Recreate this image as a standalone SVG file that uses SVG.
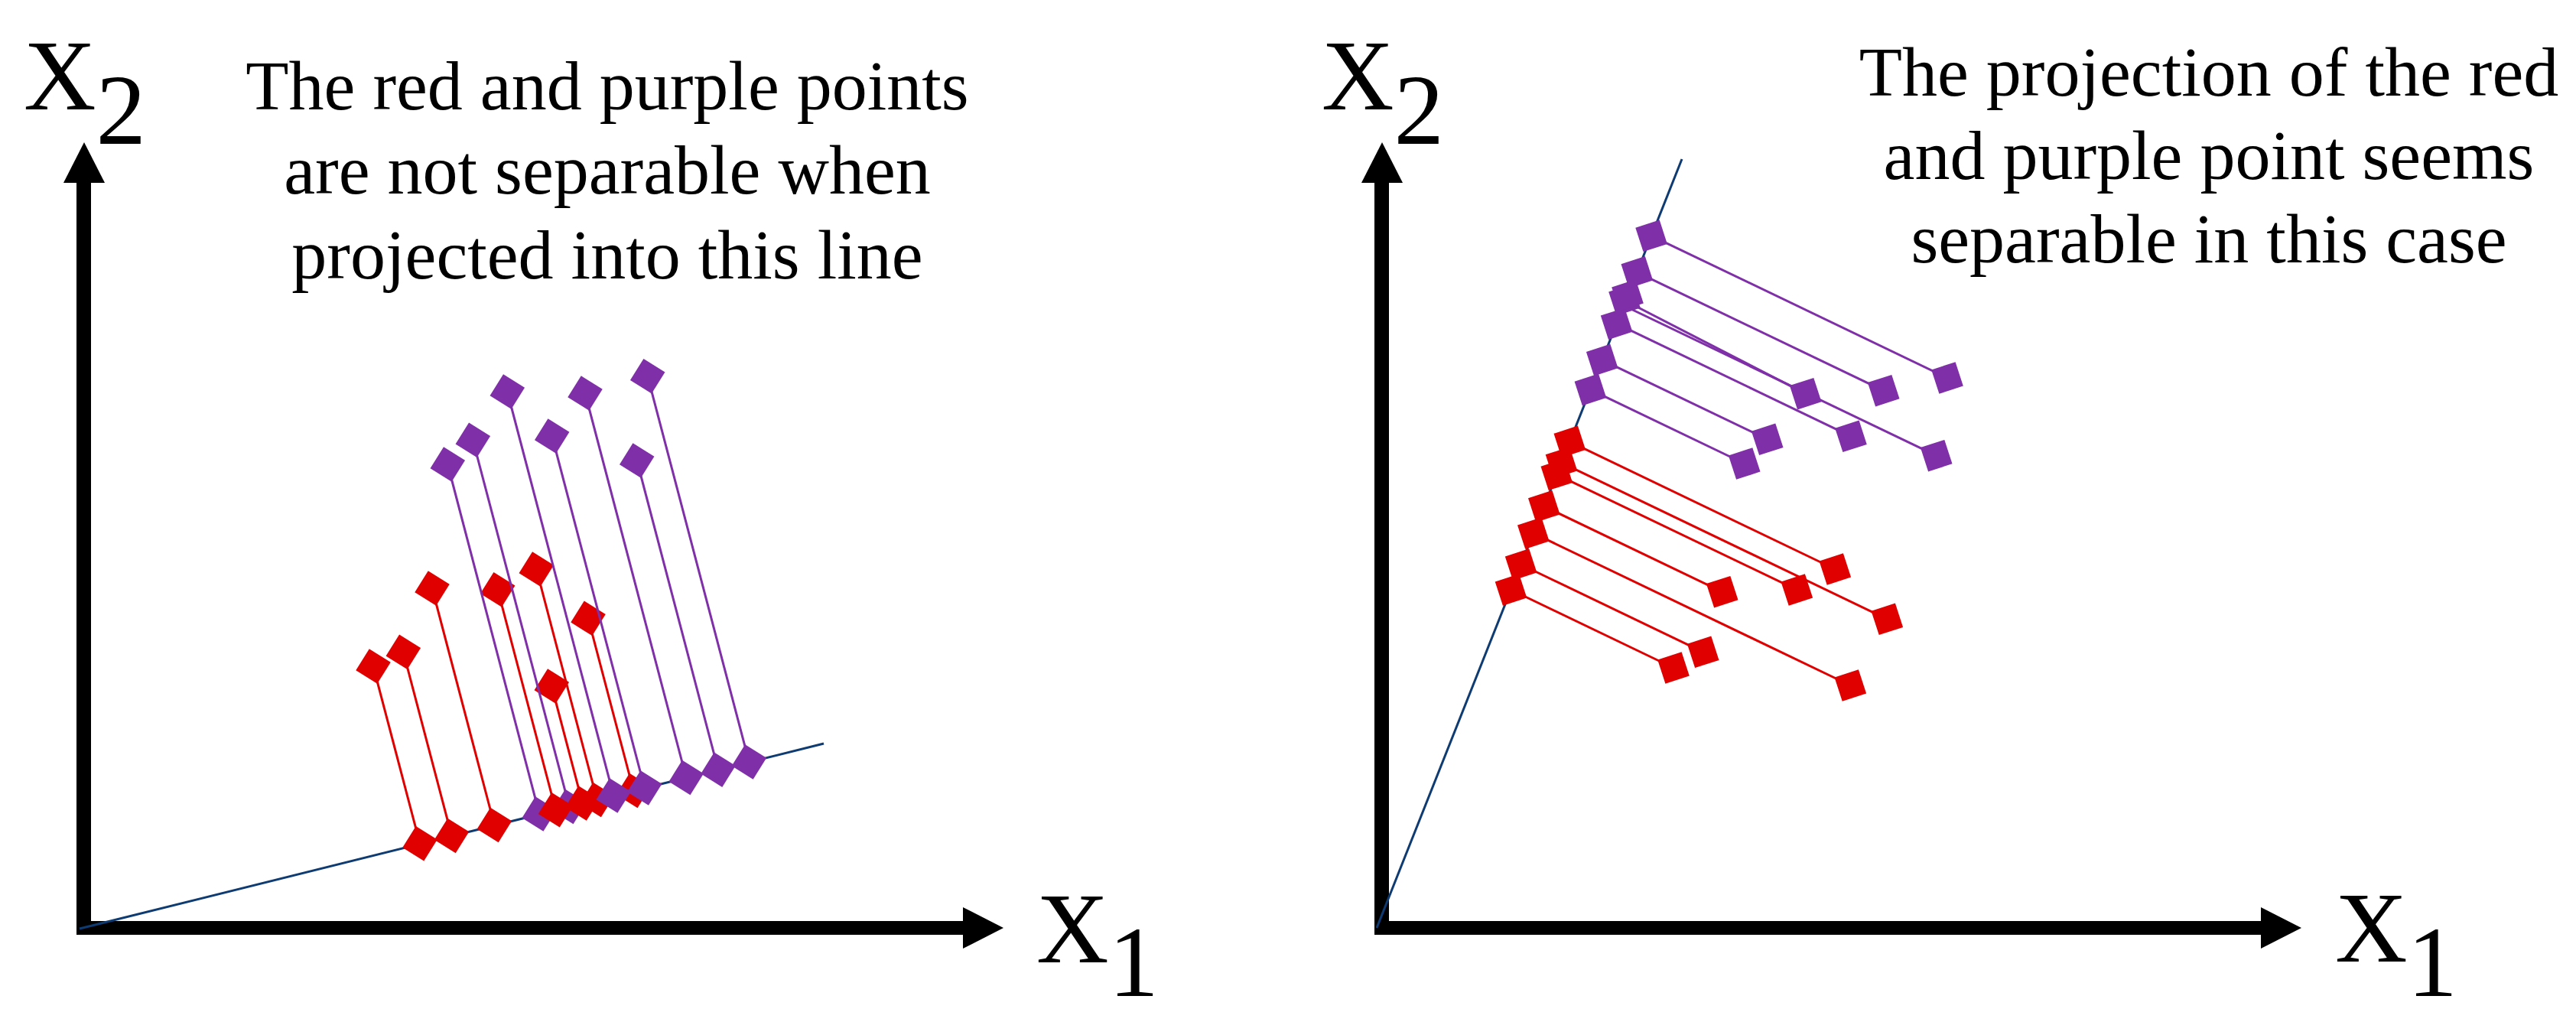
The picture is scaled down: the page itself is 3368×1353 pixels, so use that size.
<svg xmlns="http://www.w3.org/2000/svg" xmlns:xlink="http://www.w3.org/1999/xlink" width="3368" height="1353" viewBox="0 0 3368 1353">
<style>
.bg{fill:#fff}
.ax{fill:#000}
.proj{stroke:#0E3B72;stroke-width:3;fill:none}
.cr{stroke:#E00000;stroke-width:3;fill:none}
.cp{stroke:#7F2FA8;stroke-width:3;fill:none}
.r{fill:#E00000}
.p{fill:#7F2FA8}
.cap{font-family:'Liberation Serif','Times New Roman',serif;font-size:92px;fill:#000;text-anchor:middle}
.lab{font-family:'Liberation Serif','Times New Roman',serif;font-size:131px;fill:#000}
</style>
<defs>
<rect id="sqL" x="-16.5" y="-16.5" width="33" height="33" transform="rotate(32)"/>
<rect id="sqR" x="-16.5" y="-16.5" width="33" height="33" transform="rotate(-18)"/>
</defs>
<rect class="bg" x="0" y="0" width="3368" height="1353"/>

<!-- Left panel axes -->
<g id="left-axes">
<rect class="ax" x="100" y="236" width="19" height="986"/>
<polygon class="ax" points="110,186 137,239 83,239"/>
<rect class="ax" x="100" y="1204" width="1162" height="18"/>
<polygon class="ax" points="1312,1213 1259,1186 1259,1240"/>
<line class="proj" x1="104" y1="1214" x2="1077" y2="972"/>
</g>
<g id="left-labels">
<text class="lab" x="31" y="143">X<tspan dy="45">2</tspan></text>
<text class="lab" x="1355" y="1258">X<tspan dy="44">1</tspan></text>
</g>
<g id="left-caption">
<text class="cap" x="794" y="143">The red and purple points</text>
<text class="cap" x="794" y="253">are not separable when</text>
<text class="cap" x="794" y="364">projected into this line</text>
</g>

<!-- Right panel axes -->
<g id="right-axes">
<rect class="ax" x="1797" y="236" width="19" height="986"/>
<polygon class="ax" points="1807,186 1834,239 1780,239"/>
<rect class="ax" x="1797" y="1204" width="1162" height="18"/>
<polygon class="ax" points="3009,1213 2956,1186 2956,1240"/>
<line class="proj" x1="1800" y1="1213" x2="2199" y2="208"/>
</g>
<g id="right-labels">
<text class="lab" x="1728" y="143">X<tspan dy="45">2</tspan></text>
<text class="lab" x="3053" y="1257">X<tspan dy="45">1</tspan></text>
</g>
<g id="right-caption">
<text class="cap" x="2888" y="125">The projection of the red</text>
<text class="cap" x="2888" y="234">and purple point seems</text>
<text class="cap" x="2888" y="343">separable in this case</text>
</g>

<!-- Connectors -->
<g id="connectors">
<g id="left-red-connectors" class="cr">
<line x1="488" y1="871" x2="549" y2="1102.8"/>
<line x1="527.3" y1="852.3" x2="590.5" y2="1092.5"/>
<line x1="565" y1="769" x2="646.4" y2="1078.6"/>
<line x1="650.7" y1="770.7" x2="726.5" y2="1058.8"/>
<line x1="701.3" y1="744" x2="780.6" y2="1045.5"/>
<line x1="769" y1="808.3" x2="828.3" y2="1033.6"/>
<line x1="721.3" y1="897" x2="761.6" y2="1050"/>
</g>
<g id="right-red-connectors" class="cr">
<line x1="2188" y1="873" x2="1975.5" y2="771"/>
<line x1="2226.7" y1="852.3" x2="1988.6" y2="738"/>
<line x1="2419.3" y1="896" x2="2004.8" y2="697"/>
<line x1="2251.7" y1="773.7" x2="2018.8" y2="661.9"/>
<line x1="2349.3" y1="771" x2="2035.3" y2="620.3"/>
<line x1="2467.3" y1="809.3" x2="2041.5" y2="604.9"/>
<line x1="2399.3" y1="744" x2="2052.3" y2="577.4"/>
</g>
</g>

<!-- Left red original points -->
<g id="left-red-points" class="r">
<g id="L-r1"><use xlink:href="#sqL" transform="translate(488 871)"/></g>
<g id="L-r2"><use xlink:href="#sqL" transform="translate(527.3 852.3)"/></g>
<g id="L-r3"><use xlink:href="#sqL" transform="translate(565 769)"/></g>
<g id="L-r4"><use xlink:href="#sqL" transform="translate(650.7 770.7)"/></g>
<g id="L-r5"><use xlink:href="#sqL" transform="translate(701.3 744)"/></g>
<g id="L-r6"><use xlink:href="#sqL" transform="translate(769 808.3)"/></g>
<g id="L-r7"><use xlink:href="#sqL" transform="translate(721.3 897)"/></g>
</g>

<g id="connectors-purple">
<g id="left-purple-connectors" class="cp">
<line x1="585.3" y1="607" x2="705.2" y2="1064"/>
<line x1="618.3" y1="575.3" x2="744.3" y2="1054.4"/>
<line x1="663.3" y1="512" x2="802.2" y2="1040.1"/>
<line x1="721.7" y1="570" x2="842.7" y2="1030"/>
<line x1="765" y1="514" x2="897.2" y2="1016.6"/>
<line x1="846.7" y1="491.7" x2="979.4" y2="996.1"/>
<line x1="832.7" y1="602" x2="939" y2="1006.2"/>
</g>
<g id="right-purple-connectors" class="cp">
<line x1="2546" y1="494" x2="2159.1" y2="308.3"/>
<line x1="2462.7" y1="510.7" x2="2140.3" y2="355.9"/>
<line x1="2531.7" y1="595.7" x2="2123" y2="399.5"/>
<line x1="2360.7" y1="514.7" x2="2122.6" y2="392"/>
<line x1="2420" y1="570.3" x2="2113.6" y2="423.2"/>
<line x1="2310.7" y1="574.3" x2="2094.7" y2="470.6"/>
<line x1="2280.7" y1="606" x2="2079.4" y2="509.4"/>
</g>
</g>

<!-- Left purple original points -->
<g id="left-purple-points" class="p">
<g id="L-p1"><use xlink:href="#sqL" transform="translate(585.3 607)"/></g>
<g id="L-p2"><use xlink:href="#sqL" transform="translate(618.3 575.3)"/></g>
<g id="L-p3"><use xlink:href="#sqL" transform="translate(663.3 512)"/></g>
<g id="L-p4"><use xlink:href="#sqL" transform="translate(721.7 570)"/></g>
<g id="L-p5"><use xlink:href="#sqL" transform="translate(765 514)"/></g>
<g id="L-p6"><use xlink:href="#sqL" transform="translate(846.7 491.7)"/></g>
<g id="L-p7"><use xlink:href="#sqL" transform="translate(832.7 602)"/></g>
</g>

<!-- Left projected points -->
<g id="left-projected">
<g id="L-p1-proj" class="p"><use xlink:href="#sqL" transform="translate(705.2 1064)"/></g>
<g id="L-p2-proj" class="p"><use xlink:href="#sqL" transform="translate(744.3 1054.4)"/></g>
<g id="L-r1-proj" class="r"><use xlink:href="#sqL" transform="translate(549 1102.8)"/></g>
<g id="L-r2-proj" class="r"><use xlink:href="#sqL" transform="translate(590.5 1092.5)"/></g>
<g id="L-r3-proj" class="r"><use xlink:href="#sqL" transform="translate(646.4 1078.6)"/></g>
<g id="L-r6-proj" class="r"><use xlink:href="#sqL" transform="translate(828.3 1033.6)"/></g>
<g id="L-r4-proj" class="r"><use xlink:href="#sqL" transform="translate(726.5 1058.8)"/></g>
<g id="L-r7-proj" class="r"><use xlink:href="#sqL" transform="translate(761.6 1050)"/></g>
<g id="L-r5-proj" class="r"><use xlink:href="#sqL" transform="translate(780.6 1045.5)"/></g>
<g id="L-p3-proj" class="p"><use xlink:href="#sqL" transform="translate(802.2 1040.1)"/></g>
<g id="L-p4-proj" class="p"><use xlink:href="#sqL" transform="translate(842.7 1030)"/></g>
<g id="L-p5-proj" class="p"><use xlink:href="#sqL" transform="translate(897.2 1016.6)"/></g>
<g id="L-p7-proj" class="p"><use xlink:href="#sqL" transform="translate(939 1006.2)"/></g>
<g id="L-p6-proj" class="p"><use xlink:href="#sqL" transform="translate(979.4 996.1)"/></g>
</g>

<!-- Right original points -->
<g id="right-red-points" class="r">
<g id="R-r1"><use xlink:href="#sqR" transform="translate(2188 873)"/></g>
<g id="R-r2"><use xlink:href="#sqR" transform="translate(2226.7 852.3)"/></g>
<g id="R-r3"><use xlink:href="#sqR" transform="translate(2419.3 896)"/></g>
<g id="R-r4"><use xlink:href="#sqR" transform="translate(2251.7 773.7)"/></g>
<g id="R-r5"><use xlink:href="#sqR" transform="translate(2349.3 771)"/></g>
<g id="R-r6"><use xlink:href="#sqR" transform="translate(2467.3 809.3)"/></g>
<g id="R-r7"><use xlink:href="#sqR" transform="translate(2399.3 744)"/></g>
</g>
<g id="right-purple-points" class="p">
<g id="R-p1"><use xlink:href="#sqR" transform="translate(2546 494)"/></g>
<g id="R-p2"><use xlink:href="#sqR" transform="translate(2462.7 510.7)"/></g>
<g id="R-p3"><use xlink:href="#sqR" transform="translate(2531.7 595.7)"/></g>
<g id="R-p4"><use xlink:href="#sqR" transform="translate(2360.7 514.7)"/></g>
<g id="R-p5"><use xlink:href="#sqR" transform="translate(2420 570.3)"/></g>
<g id="R-p6"><use xlink:href="#sqR" transform="translate(2310.7 574.3)"/></g>
<g id="R-p7"><use xlink:href="#sqR" transform="translate(2280.7 606)"/></g>
</g>

<!-- Right projected points -->
<g id="right-projected">
<g id="R-r1-proj" class="r"><use xlink:href="#sqR" transform="translate(1975.5 771)"/></g>
<g id="R-r2-proj" class="r"><use xlink:href="#sqR" transform="translate(1988.6 738)"/></g>
<g id="R-r3-proj" class="r"><use xlink:href="#sqR" transform="translate(2004.8 697)"/></g>
<g id="R-r4-proj" class="r"><use xlink:href="#sqR" transform="translate(2018.8 661.9)"/></g>
<g id="R-r5-proj" class="r"><use xlink:href="#sqR" transform="translate(2035.3 620.3)"/></g>
<g id="R-r6-proj" class="r"><use xlink:href="#sqR" transform="translate(2041.5 604.9)"/></g>
<g id="R-r7-proj" class="r"><use xlink:href="#sqR" transform="translate(2052.3 577.4)"/></g>
<g id="R-p7-proj" class="p"><use xlink:href="#sqR" transform="translate(2079.4 509.4)"/></g>
<g id="R-p6-proj" class="p"><use xlink:href="#sqR" transform="translate(2094.7 470.6)"/></g>
<g id="R-p5-proj" class="p"><use xlink:href="#sqR" transform="translate(2113.6 423.2)"/></g>
<g id="R-p4-proj" class="p"><use xlink:href="#sqR" transform="translate(2124 392)"/></g>
<g id="R-p3-proj" class="p"><use xlink:href="#sqR" transform="translate(2128 386)"/></g>
<g id="R-p2-proj" class="p"><use xlink:href="#sqR" transform="translate(2140.3 355.9)"/></g>
<g id="R-p1-proj" class="p"><use xlink:href="#sqR" transform="translate(2159.1 308.3)"/></g>
</g>
</svg>
